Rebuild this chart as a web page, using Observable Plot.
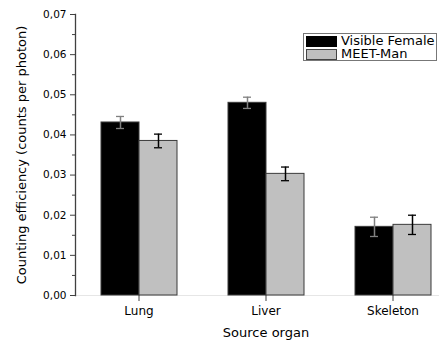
<!DOCTYPE html>
<html>
<head>
<meta charset="utf-8">
<script src="https://cdn.jsdelivr.net/npm/d3@7"></script>
<script src="https://cdn.jsdelivr.net/npm/@observablehq/plot@0.6"></script>
<style>
  html, body { margin: 0; padding: 0; background: #fff; }
  #wrap { position: relative; width: 439px; height: 341px; font-family: "DejaVu Sans", sans-serif; }
  #legend { position: absolute; left: 303px; top: 33px; width: 132px; height: 26px; border: 1px solid #777; background: #fff; font-size: 11.5px; color: #000; }
  #legend .item { position: absolute; left: 2px; height: 12px; display: flex; align-items: center; white-space: nowrap; }
  #legend .sw { width: 29px; height: 9px; margin-right: 4px; border: 1px solid #444; flex: none; }
  #legend .lbl { display: inline-block; line-height: 13px; transform: scaleX(1.13); transform-origin: left center; }
</style>
</head>
<body>
<div id="wrap"></div>
<script>
const organs = ["Lung", "Liver", "Skeleton"];
const seriesNames = ["Visible Female", "MEET-Man"];
const visibleFemale = [0.0431, 0.0480, 0.0171];
const visibleFemaleErr = [0.0015, 0.0014, 0.0024];
const meetMan = [0.0385, 0.0303, 0.0176];
const meetManErr = [0.0017, 0.0017, 0.0024];
const yTicks = [0, 0.01, 0.02, 0.03, 0.04, 0.05, 0.06, 0.07];
const yMinorTicks = [0.005, 0.015, 0.025, 0.035, 0.045, 0.055, 0.065];
const seriesColors = ["#000000", "#c0c0c0"];
const errColors = ["#808080", "#000000"];

const rows = [];
organs.forEach((o, i) => {
  rows.push({organ: o, series: seriesNames[0], value: visibleFemale[i], err: visibleFemaleErr[i]});
  rows.push({organ: o, series: seriesNames[1], value: meetMan[i], err: meetManErr[i]});
});
const fmt = d => d3.format(".2f")(d).replace(".", ",");
const errStroke = d => errColors[seriesNames.indexOf(d.series)];

const chart = Plot.plot({
  width: 439,
  height: 341,
  marginLeft: 75,
  marginRight: -17,
  marginTop: 14,
  marginBottom: 46,
  style: {fontFamily: "DejaVu Sans, sans-serif", color: "#000", background: "#fff"},
  fx: {domain: organs, padding: 0},
  x: {domain: seriesNames, paddingInner: 0, paddingOuter: 0.65, axis: null},
  y: {domain: [0, 0.07]},
  color: {domain: seriesNames, range: seriesColors},
  marks: [
    Plot.ruleY([0], {stroke: "#e6e6e6"}),
    Plot.barY(rows, {fx: "organ", x: "series", y: "value", fill: "series", stroke: "#3a3a3a", strokeWidth: 1}),
    Plot.ruleX(rows, {fx: "organ", x: "series", y1: d => d.value - d.err, y2: d => d.value + d.err, stroke: errStroke, strokeWidth: 1.5}),
    Plot.tickY(rows, {fx: "organ", x: "series", y: d => d.value - d.err, stroke: errStroke, strokeWidth: 1.3, insetLeft: 15, insetRight: 15}),
    Plot.tickY(rows, {fx: "organ", x: "series", y: d => d.value + d.err, stroke: errStroke, strokeWidth: 1.3, insetLeft: 15, insetRight: 15}),
    Plot.frame({anchor: "left", facetAnchor: "left", stroke: "#404040", strokeWidth: 1.3}),
    Plot.axisY({ticks: yTicks, tickSize: 5, tickPadding: 4, tickFormat: fmt, fontSize: 10.5, stroke: "#404040", label: null}),
    Plot.axisY({ticks: yMinorTicks, tickSize: 3, tickFormat: () => "", stroke: "#404040", label: null}),
    Plot.axisY({ticks: [], label: "Counting efficiency (counts per photon)", labelArrow: "none", labelAnchor: "center", labelOffset: 59, fontSize: 13}),
    Plot.axisFx({anchor: "bottom", tickSize: 6, tickPadding: 5, fontSize: 12, stroke: "#404040", label: null}),
    Plot.axisFx({anchor: "bottom", ticks: [], label: "Source organ", labelArrow: "none", labelAnchor: "center", labelOffset: 41, fontSize: 13})
  ]
});

const wrap = document.getElementById("wrap");
wrap.appendChild(chart);

const legend = document.createElement("div");
legend.id = "legend";
seriesNames.forEach((s, i) => {
  const item = document.createElement("div");
  item.className = "item";
  item.style.top = (1 + i * 13.5) + "px";
  const sw = document.createElement("span");
  sw.className = "sw";
  sw.style.background = seriesColors[i];
  if (i === 0) sw.style.borderColor = "#000";
  const t = document.createElement("span");
  t.className = "lbl";
  t.textContent = s;
  item.appendChild(sw);
  item.appendChild(t);
  legend.appendChild(item);
});
wrap.appendChild(legend);
</script>
</body>
</html>
